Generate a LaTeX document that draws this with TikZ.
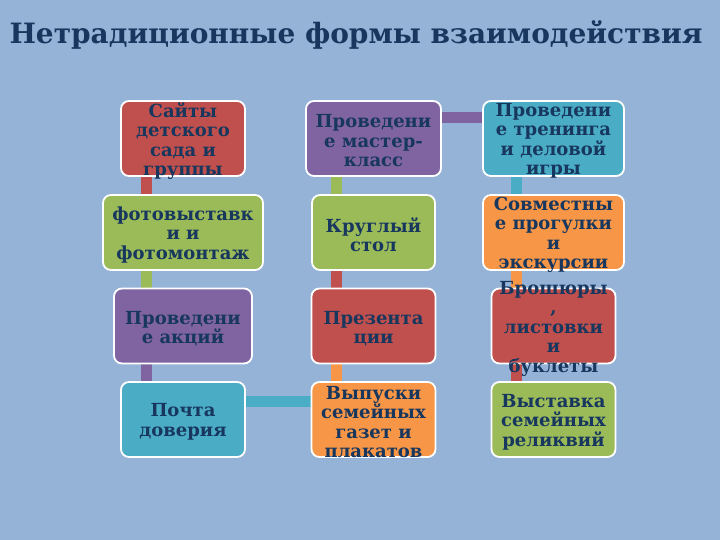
\documentclass[tikz,border=0pt]{standalone}
\usepackage{fontspec}
\setmainfont{DejaVu Serif}
\usetikzlibrary{backgrounds}
\definecolor{slide}{HTML}{95B3D7}
\definecolor{ink}{HTML}{17375E}
\definecolor{cred}{HTML}{C0504D}
\definecolor{cgreen}{HTML}{9BBB59}
\definecolor{cpurple}{HTML}{8064A2}
\definecolor{cteal}{HTML}{4BACC6}
\definecolor{corange}{HTML}{F79646}
\newcommand{\cell}[2]{\parbox[c][70pt][c]{#1}{\vspace*{5pt}\centering #2}}

\begin{document}
\begin{tikzpicture}[x=1pt,y=-1pt,
		box/.style = {draw=white, line width=1.8pt, rounded corners=8pt,
			minimum height=75pt, inner sep=0pt, text=ink,
			font=\bfseries\fontsize{18}{19.5}\selectfont},
		bar/.style = {line width=11pt}
		]
		\node[text=ink, font=\bfseries\fontsize{28}{32}\selectfont] (title) at (356,35) {Нетрадиционные формы взаимодействия};
		% left column
		\node[box, fill=cred, minimum width=124pt] (saity) at (183,138.5) {\cell{120pt}{Сайты\\детского\\сада и\\группы}};
		\node[box, fill=cgreen, minimum width=160pt] (foto) at (183,232.5) {\cell{156pt}{фотовыставк\\и и\\фотомонтаж}};
		\node[box, fill=cpurple, minimum width=138pt] (akcii) at (183,326) {\cell{134pt}{Проведени\\е акций}};
		\node[box, fill=cteal, minimum width=124pt] (pochta) at (183,419.5) {\cell{120pt}{Почта\\доверия}};
		% middle column
		\node[box, fill=cpurple, minimum width=135pt] (master) at (373.5,138.5) {\cell{131pt}{Проведени\\е мастер-\\класс}};
		\node[box, fill=cgreen, minimum width=123pt] (stol) at (373.5,232.5) {\cell{119pt}{Круглый\\стол}};
		\node[box, fill=cred, minimum width=124pt] (prezent) at (373.5,326) {\cell{120pt}{Презента\\ции}};
		\node[box, fill=corange, minimum width=124pt] (gazety) at (373.5,419.5) {\cell{120pt}{Выпуски\\семейных\\газет и\\плакатов}};
		% right column
		\node[box, fill=cteal, minimum width=141pt] (trening) at (553.5,138.5) {\cell{137pt}{Проведени\\е тренинга\\и деловой\\игры}};
		\node[box, fill=corange, minimum width=141pt] (progulki) at (553.5,232.5) {\cell{137pt}{Совместны\\е прогулки\\и\\экскурсии}};
		\node[box, fill=cred, minimum width=124pt] (broshury) at (553.5,326) {\cell{120pt}{Брошюры\\,\\листовки\\и\\буклеты}};
		\node[box, fill=cgreen, minimum width=124pt] (relikvii) at (553.5,419.5) {\cell{120pt}{Выставка\\семейных\\реликвий}};
		\begin{scope}[on background layer]
			\fill[slide] (0,0) rectangle (720,540);
			\draw[bar, cred] ([xshift=-37pt]saity.center) -- ([xshift=-37pt]foto.center);
			\draw[bar, cgreen] ([xshift=-37pt]foto.center) -- ([xshift=-37pt]akcii.center);
			\draw[bar, cpurple] ([xshift=-37pt]akcii.center) -- ([xshift=-37pt]pochta.center);
			\draw[bar, cteal] ([yshift=18.5pt]pochta.center) -- ([yshift=18.5pt]gazety.center);
			\draw[bar, corange] ([xshift=-37.5pt]gazety.center) -- ([xshift=-37.5pt]prezent.center);
			\draw[bar, cred] ([xshift=-37.5pt]prezent.center) -- ([xshift=-37.5pt]stol.center);
			\draw[bar, cgreen] ([xshift=-37.5pt]stol.center) -- ([xshift=-37.5pt]master.center);
			\draw[bar, cpurple] ([yshift=20.5pt]master.center) -- ([yshift=20.5pt]trening.center);
			\draw[bar, cteal] ([xshift=-37.5pt]trening.center) -- ([xshift=-37.5pt]progulki.center);
			\draw[bar, corange] ([xshift=-37.5pt]progulki.center) -- ([xshift=-37.5pt]broshury.center);
			\draw[bar, cred] ([xshift=-37.5pt]broshury.center) -- ([xshift=-37.5pt]relikvii.center);
		\end{scope}
	\end{tikzpicture}
\end{document}
